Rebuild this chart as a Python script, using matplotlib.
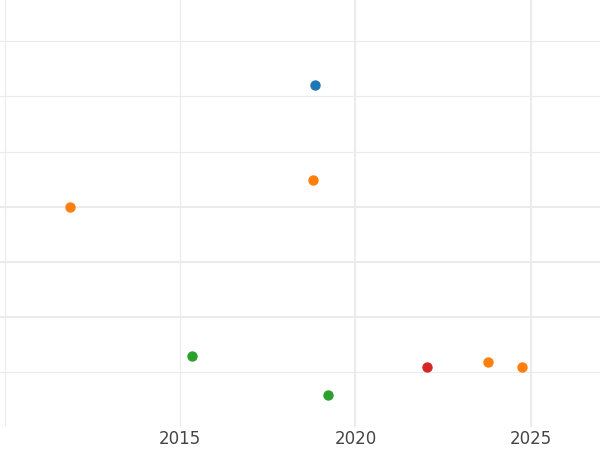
import matplotlib
matplotlib.use('Agg')
import matplotlib.pyplot as plt

# data
years_blue = [2018.85]
vals_blue = [6.2]
years_orange = [2011.87, 2018.79, 2023.77, 2024.74]
vals_orange = [4.0, 4.49, 1.18, 1.09]
years_green = [2015.34, 2019.22]
vals_green = [1.29, 0.58]
years_red = [2022.04]
vals_red = [1.09]

x_major = [2020, 2025]
x_minor = [2010, 2015]
x_labels = [2015, 2020, 2025]
y_major = [2, 3, 4]
y_minor = [1, 5, 6, 7]

fig = plt.figure(figsize=(6, 4.5), dpi=100)
ax = fig.add_axes([0, 1 - 427 / 450, 1, 427 / 450])

for x in x_major:
    ax.axvline(x, color='#ebebeb', linewidth=1.5, zorder=0)
for x in x_minor:
    ax.axvline(x, color='#ebebeb', linewidth=0.8, zorder=0)
for y in y_major:
    ax.axhline(y, color='#ebebeb', linewidth=1.5, zorder=0)
for y in y_minor:
    ax.axhline(y, color='#ebebeb', linewidth=0.8, zorder=0)

ax.scatter(years_blue, vals_blue, color='#1f77b4', s=42, zorder=3)
ax.scatter(years_orange, vals_orange, color='#ff7f0e', s=42, zorder=3)
ax.scatter(years_green, vals_green, color='#2ca02c', s=42, zorder=3)
ax.scatter(years_red, vals_red, color='#d62728', s=42, zorder=3)

ax.set_xlim(2009.87, 2026.97)
ax.set_ylim(0, 7.75)
ax.set_xticks(x_labels)
ax.set_xticklabels([str(v) for v in x_labels])
ax.set_yticks([])
ax.tick_params(axis='x', length=0, labelsize=12, labelcolor='#444444', pad=2.5)
for s in ax.spines.values():
    s.set_visible(False)

plt.savefig('out.png', dpi=100)
plt.close()
